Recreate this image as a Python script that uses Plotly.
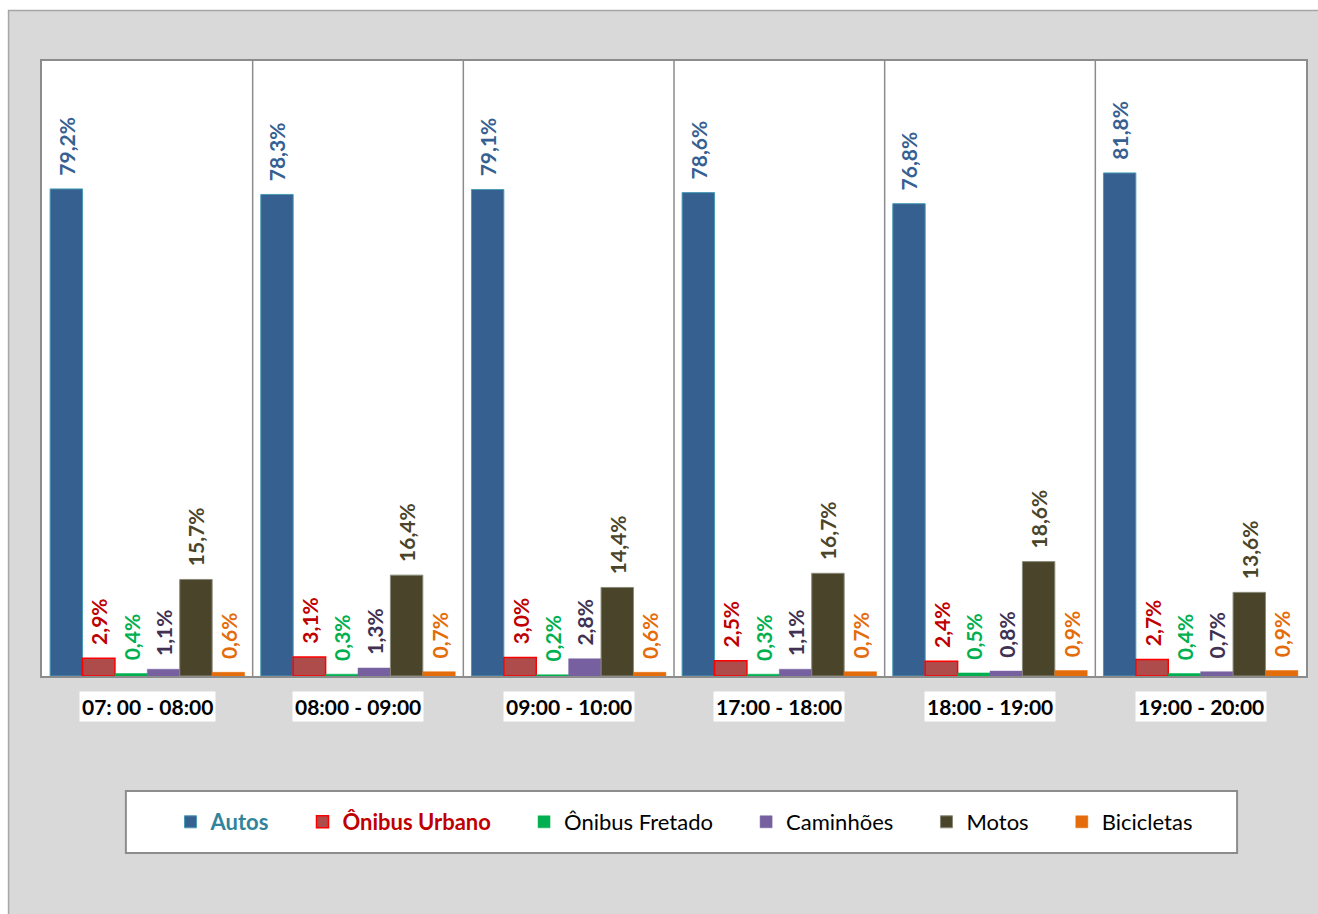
import plotly.graph_objects as go

categories = ["07: 00 - 08:00", "08:00 - 09:00", "09:00 - 10:00",
              "17:00 - 18:00", "18:00 - 19:00", "19:00 - 20:00"]
series_names = ["Autos", "Ônibus Urbano", "Ônibus Fretado", "Caminhões", "Motos", "Bicicletas"]
autos = [79.2, 78.3, 79.1, 78.6, 76.8, 81.8]
onibus_urbano = [2.9, 3.1, 3.0, 2.5, 2.4, 2.7]
onibus_fretado = [0.4, 0.3, 0.2, 0.3, 0.5, 0.4]
caminhoes = [1.1, 1.3, 2.8, 1.1, 0.8, 0.7]
motos = [15.7, 16.4, 14.4, 16.7, 18.6, 13.6]
bicicletas = [0.6, 0.7, 0.6, 0.7, 0.9, 0.9]
series_values = [autos, onibus_urbano, onibus_fretado, caminhoes, motos, bicicletas]

fills = ["#35608f", "#ae4b4b", "#00b050", "#7760a0", "#4a452a", "#e46c0a"]
outlines = ["#4a9bb5", "#ff0000", "#00b050", "#7760a0", "#8a8a7a", "#e46c0a"]
outline_w = [1, 1.5, 0.5, 0.5, 1, 0.5]
label_colors = ["#366092", "#c00000", "#00b050", "#403152", "#4a452a", "#e46c0a"]
legend_styles = ["<b><span style='color:#31849b'>{}</span></b>",
                 "<b><span style='color:#c00000'>{}</span></b>",
                 "{}", "{}", "{}", "{}"]
PAD = "\u00a0" * 5

FONT = "Lato"
W, H = 1318, 914
ML, MR, MT, MB = 42, 10, 61, 914 - 676
PW, PH = W - ML - MR, H - MT - MB


def px_x(x):
    return (x - ML) / PW


def px_y(y):
    return (H - MB - y) / PH


fig = go.Figure()
for i, name in enumerate(series_names):
    label = legend_styles[i].format(name) + (PAD if i < len(series_names) - 1 else "")
    fig.add_trace(go.Bar(
        x=categories, y=series_values[i], name=label,
        marker=dict(color=fills[i], line=dict(color=outlines[i], width=outline_w[i])),
        texttemplate="\u00a0\u00a0%{y:.1f}%", textposition="outside", textangle=-90,
        textfont=dict(family=FONT, size=21, color=label_colors[i], weight="bold"),
        constraintext="none", cliponaxis=False,
    ))

shapes = [
    dict(type="rect", xref="paper", yref="paper", layer="below",
         x0=px_x(8.5), x1=px_x(1330), y0=px_y(930), y1=px_y(10.5),
         fillcolor="#d9d9d9", line=dict(color="#a6a6a6", width=1.5)),
    dict(type="rect", xref="paper", yref="paper", layer="below",
         x0=0, x1=1, y0=0, y1=1, fillcolor="#ffffff", line=dict(width=0)),
    dict(type="rect", xref="paper", yref="paper", layer="below",
         x0=px_x(126), x1=px_x(1239), y0=px_y(853), y1=px_y(791),
         fillcolor="#ffffff", line=dict(color="#8c8c8c", width=2)),
]
for i in range(len(categories) - 1):
    shapes.append(dict(type="line", xref="x", yref="paper", x0=i + 0.5, x1=i + 0.5,
                       y0=0, y1=1, line=dict(color="#8c8c8c", width=1.5)))

annotations = []
for c in categories:
    annotations.append(dict(x=c, xref="x", yref="paper", y=0, yshift=-30, yanchor="middle",
                            text=f"<b>{c}</b>", showarrow=False, bgcolor="#ffffff", borderpad=2,
                            font=dict(family=FONT, size=21, color="#000000")))

fig.update_layout(
    width=W, height=H,
    margin=dict(l=ML, r=MR, t=MT, b=MB),
    paper_bgcolor="#ffffff", plot_bgcolor="#ffffff",
    separators=",.",
    barmode="group", bargap=0.077, bargroupgap=0,
    font=dict(family=FONT, size=17, color="#000000"),
    shapes=shapes, annotations=annotations,
    legend=dict(orientation="h", x=px_x(685), xanchor="center", y=px_y(822), yanchor="middle",
                bgcolor="rgba(0,0,0,0)", font=dict(family=FONT, size=22, color="#000000"),
                itemwidth=30, traceorder="normal"),
    xaxis=dict(showticklabels=False, ticks="", showline=True, mirror=True,
               linecolor="#8c8c8c", linewidth=2, range=[-0.5, len(categories) - 0.5]),
    yaxis=dict(range=[0, 100], showgrid=False, showticklabels=False, zeroline=False,
               showline=True, mirror=True, linecolor="#8c8c8c", linewidth=2, ticks=""),
)

fig.write_html("out.html", config={"displayModeBar": False},
               post_script="document.body.style.margin='0';document.body.style.overflow='hidden';")
